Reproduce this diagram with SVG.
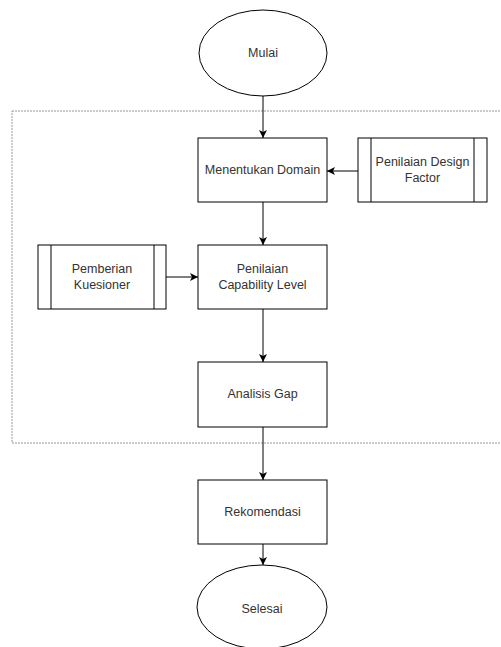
<svg xmlns="http://www.w3.org/2000/svg" width="501" height="647" viewBox="0 0 501 647">
<style>
.shape{fill:#fff;stroke:#000;stroke-width:1}
.txt{font-family:"Liberation Sans",Arial,sans-serif;font-size:12.5px;fill:#333;text-anchor:middle}
.edge{stroke:#000;stroke-width:1;fill:none}
</style>
<defs>
<marker id="arr" markerUnits="userSpaceOnUse" markerWidth="10" markerHeight="10" refX="8" refY="4" orient="auto">
<path d="M0,0 L8,4 L0,8 L2,4 z" fill="#000"/>
</marker>
</defs>
<rect width="501" height="647" fill="#fff"/>
<rect id="container" x="12" y="111" width="495" height="332" fill="none" stroke="#999" stroke-width="1" stroke-dasharray="2 1"/>
<g id="connectors">
<line class="edge" x1="263" y1="96" x2="263" y2="138" marker-end="url(#arr)"/>
<line class="edge" x1="358" y1="171" x2="327" y2="171" marker-end="url(#arr)"/>
<line class="edge" x1="263" y1="202" x2="263" y2="245" marker-end="url(#arr)"/>
<line class="edge" x1="166" y1="277" x2="198" y2="277" marker-end="url(#arr)"/>
<line class="edge" x1="263" y1="309" x2="263" y2="362" marker-end="url(#arr)"/>
<line class="edge" x1="263" y1="427" x2="263" y2="480" marker-end="url(#arr)"/>
<line class="edge" x1="263" y1="544" x2="263" y2="565" marker-end="url(#arr)"/>
</g>
<g id="mulai">
<ellipse class="shape" cx="263" cy="53" rx="64" ry="43"/>
<text class="txt" x="263" y="57">Mulai</text>
</g>
<g id="menentukan">
<rect class="shape" x="198" y="138" width="129" height="64"/>
<text class="txt" x="262.5" y="174">Menentukan Domain</text>
</g>
<g id="design-factor">
<rect class="shape" x="358" y="138" width="129" height="64"/>
<line class="edge" x1="371" y1="138" x2="371" y2="202"/>
<line class="edge" x1="474" y1="138" x2="474" y2="202"/>
<text class="txt" x="422.5" y="166">Penilaian Design</text>
<text class="txt" x="422.5" y="182">Factor</text>
</g>
<g id="kuesioner">
<rect class="shape" x="38" y="245" width="128" height="64"/>
<line class="edge" x1="51" y1="245" x2="51" y2="309"/>
<line class="edge" x1="154" y1="245" x2="154" y2="309"/>
<text class="txt" x="102" y="273">Pemberian</text>
<text class="txt" x="102" y="289">Kuesioner</text>
</g>
<g id="capability">
<rect class="shape" x="198" y="245" width="129" height="64"/>
<text class="txt" x="262.5" y="273">Penilaian</text>
<text class="txt" x="262.5" y="289">Capability Level</text>
</g>
<g id="gap">
<rect class="shape" x="198" y="362" width="129" height="65"/>
<text class="txt" x="262.5" y="398">Analisis Gap</text>
</g>
<g id="rekomendasi">
<rect class="shape" x="198" y="480" width="129" height="64"/>
<text class="txt" x="262.5" y="516">Rekomendasi</text>
</g>
<g id="selesai">
<ellipse class="shape" cx="262" cy="607" rx="65" ry="42"/>
<text class="txt" x="262" y="613">Selesai</text>
</g>
</svg>
